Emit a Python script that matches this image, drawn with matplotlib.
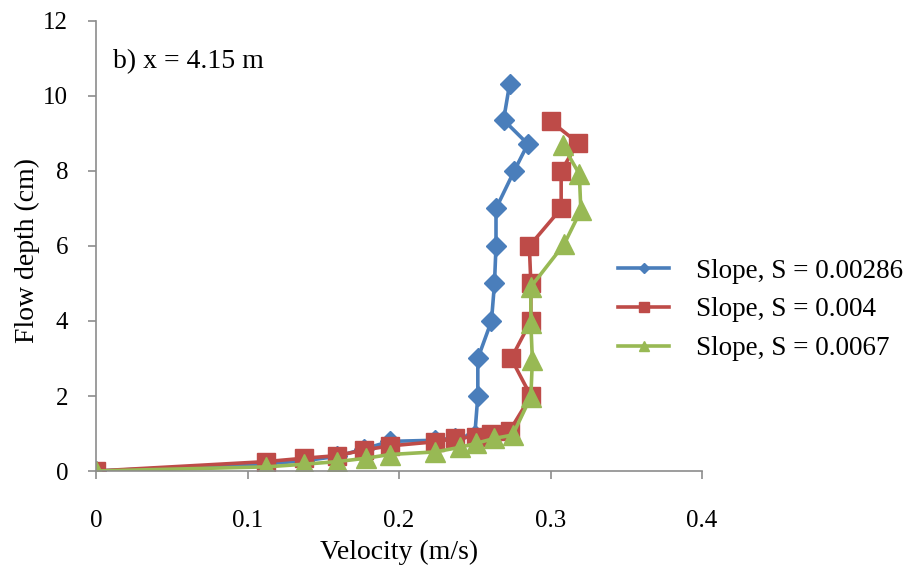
import matplotlib.pyplot as plt

plt.rcParams['font.family'] = ['Liberation Serif', 'DejaVu Serif']

# velocity (m/s) against flow depth (cm) for each bed slope
vel_s1 = [0, 0.112, 0.137, 0.159, 0.177, 0.194, 0.224, 0.237, 0.250, 0.252,
          0.252, 0.261, 0.263, 0.264, 0.264, 0.276, 0.285, 0.269, 0.273]
depth_s1 = [0, 0.19, 0.27, 0.39, 0.59, 0.79, 0.82, 0.88, 0.96, 2.0,
            3.0, 4.0, 5.0, 6.0, 7.0, 8.0, 8.72, 9.36, 10.32]

vel_s2 = [0, 0.112, 0.137, 0.159, 0.177, 0.194, 0.224, 0.237, 0.251, 0.261,
          0.273, 0.287, 0.274, 0.287, 0.287, 0.286, 0.307, 0.307, 0.318, 0.300]
depth_s2 = [0, 0.25, 0.34, 0.41, 0.56, 0.67, 0.78, 0.87, 0.92, 1.0,
            1.07, 2.0, 3.0, 4.0, 5.0, 6.0, 7.0, 8.0, 8.75, 9.33]

vel_s3 = [0, 0.112, 0.137, 0.159, 0.178, 0.194, 0.224, 0.240, 0.251, 0.263,
          0.275, 0.287, 0.288, 0.287, 0.287, 0.309, 0.320, 0.319, 0.308]
depth_s3 = [0, 0.11, 0.18, 0.25, 0.34, 0.44, 0.51, 0.63, 0.74, 0.87,
            0.96, 1.98, 2.96, 3.94, 4.91, 6.05, 6.95, 7.92, 8.69]

labels = ['Slope, S = 0.00286', 'Slope, S = 0.004', 'Slope, S = 0.0067']
colors = ['#4A7EBB', '#BE4B48', '#98B954']

fig = plt.figure(figsize=(9.1, 5.67), dpi=100)
ax = fig.add_axes([0.1055, 0.1693, 0.666, 0.7937])

ax.plot(vel_s1, depth_s1, color=colors[0], lw=2.6, marker='D', ms=10,
        label=labels[0])
ax.plot(vel_s2, depth_s2, color=colors[1], lw=2.6, marker='s', ms=13,
        label=labels[1])
ax.plot(vel_s3, depth_s3, color=colors[2], lw=2.6, marker='^', ms=14,
        label=labels[2])

ax.set_xlim(0, 0.4)
ax.set_ylim(0, 12)
ax.set_xticks([0, 0.1, 0.2, 0.3, 0.4])
ax.set_xticklabels(['0', '0.1', '0.2', '0.3', '0.4'])
ax.set_yticks(range(0, 13, 2))

for side in ['top', 'right']:
    ax.spines[side].set_visible(False)
for side in ['left', 'bottom']:
    ax.spines[side].set_color('#8c8c8c')
    ax.spines[side].set_linewidth(1.2)
ax.tick_params(axis='both', direction='out', length=6, width=1.2,
               color='#8c8c8c', labelsize=18)
ax.tick_params(axis='x', pad=22)
ax.tick_params(axis='y', pad=14)

ax.set_xlabel('Velocity (m/s)', fontsize=20, labelpad=6)
ax.set_ylabel('Flow depth (cm)', fontsize=20)
ax.yaxis.set_label_coords(-0.092, 0.49)

ax.text(0.028, 0.909, 'b) x = 4.15 m', transform=ax.transAxes,
        fontsize=20, va='center', ha='left')

fig.legend(loc='center left', bbox_to_anchor=(0.679, 0.4533), frameon=False,
           fontsize=19.5, markerscale=0.55, handlelength=1.9, borderpad=0,
           borderaxespad=0, handletextpad=1.0, labelspacing=0.5)

fig.savefig('out.png', dpi=100)
